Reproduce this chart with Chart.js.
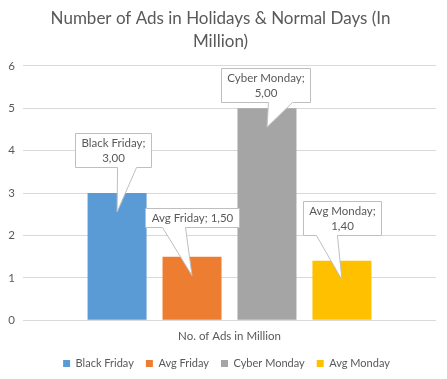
<!DOCTYPE html>
<html><head><meta charset="utf-8">
<script src="https://cdn.jsdelivr.net/npm/chart.js@4"></script>
<style>html,body{margin:0;padding:0;background:#fff}</style>
</head><body>
<canvas id="c" width="447" height="379" style="width:447px;height:379px;display:block"></canvas>
<script>
// ---- data ----
const categories = ['No. of Ads in Million'];
const seriesNames = ['Black Friday', 'Avg Friday', 'Cyber Monday', 'Avg Monday'];
const blackFriday = [3.0];
const avgFriday = [1.5];
const cyberMonday = [5.0];
const avgMonday = [1.4];
const yTicks = [0, 1, 2, 3, 4, 5, 6];
const titleLines = ['Number of Ads in Holidays & Normal Days (In', 'Million)'];

// ---- style ----
const colors = ['#5b9bd5', '#ed7d31', '#a5a5a5', '#ffc000'];
const FONT = 'Lato, "Open Sans", sans-serif';
const TEXT = '#595959';
// callout placement relative to bar: box centre dx, box bottom dy (from bar top), tail base offsets, split lines
const calloutLayout = [
  { dx: -4, dy: -26, tail: [4.5, 23.5], split: true },
  { dx: 0, dy: -30, tail: [-29.5, -6.5], split: false },
  { dx: -1, dy: -6, tail: [2.5, 26.5], split: true },
  { dx: 0.5, dy: -26, tail: [-26, -5], split: true }
];

const seriesValues = [blackFriday, avgFriday, cyberMonday, avgMonday];
const fmt = v => v.toFixed(2).replace('.', ',');

const legendShift = {
  id: 'legendShift',
  afterLayout(chart) {
    if (chart.legend) { chart.legend.left += 6; chart.legend.right += 6; }
  }
};

const calloutPlugin = {
  id: 'callouts',
  afterDatasetsDraw(chart) {
    const ctx = chart.ctx;
    ctx.save();
    ctx.font = '11.5px ' + FONT;
    chart.data.datasets.forEach((ds, i) => {
      const meta = chart.getDatasetMeta(i);
      const bar = meta.data[0];
      const lay = calloutLayout[i];
      const val = ds.data[0];
      const lines = lay.split ? [ds.label + ';', fmt(val)] : [ds.label + '; ' + fmt(val)];
      const lh = 15, padX = 6, padY = 2;
      const w = Math.round(Math.max(...lines.map(l => ctx.measureText(l).width)) + padX * 2);
      const h = lines.length * lh + padY * 2;
      const tipX = bar.x, tipY = bar.y + 19;
      const cx = bar.x + lay.dx;
      const bottom = Math.round(bar.y + lay.dy) + 0.5;
      const top = bottom - h;
      const left = Math.round(cx - w / 2) + 0.5, right = left + w;
      ctx.beginPath();
      ctx.moveTo(left, top);
      ctx.lineTo(right, top);
      ctx.lineTo(right, bottom);
      ctx.lineTo(cx + lay.tail[1], bottom);
      ctx.lineTo(tipX, tipY);
      ctx.lineTo(cx + lay.tail[0], bottom);
      ctx.lineTo(left, bottom);
      ctx.closePath();
      ctx.fillStyle = '#ffffff';
      ctx.fill();
      ctx.strokeStyle = '#bfbfbf';
      ctx.lineWidth = 1;
      ctx.stroke();
      ctx.fillStyle = TEXT;
      ctx.textAlign = 'center';
      ctx.textBaseline = 'middle';
      lines.forEach((l, k) => ctx.fillText(l, (left + right) / 2, top + padY + lh * k + lh / 2 + 0.5));
    });
    ctx.restore();
  }
};

new Chart(document.getElementById('c'), {
  type: 'bar',
  data: {
    labels: categories,
    datasets: seriesNames.map((n, i) => ({
      label: n,
      data: seriesValues[i],
      backgroundColor: colors[i],
      borderWidth: 0
    }))
  },
  options: {
    responsive: false,
    devicePixelRatio: 1,
    animation: false,
    categoryPercentage: 0.726,
    barPercentage: 0.787,
    layout: { padding: { left: 5, right: 11, top: 0, bottom: 0 } },
    plugins: {
      title: {
        display: true,
        text: titleLines,
        color: TEXT,
        font: { family: FONT, size: 17, weight: 'normal', lineHeight: 1.35 },
        padding: { top: 7, bottom: 13 }
      },
      legend: {
        position: 'bottom',
        labels: {
          boxWidth: 7, boxHeight: 7, color: TEXT,
          font: { family: FONT, size: 11 },
          padding: 12
        }
      },
      tooltip: { enabled: false }
    },
    scales: {
      x: {
        grid: { display: false, drawTicks: false },
        border: { display: false },
        afterFit: s => { s.height -= 6; },
        ticks: { color: TEXT, font: { family: FONT, size: 11.5 }, padding: 9 }
      },
      y: {
        min: 0, max: 6,
        afterBuildTicks: s => { s.ticks = yTicks.map(v => ({ value: v })); },
        afterFit: s => { s.width = 18; },
        grid: { color: '#d9d9d9', drawTicks: false },
        border: { display: false },
        ticks: { color: TEXT, font: { family: FONT, size: 11.5 }, padding: 8 }
      }
    }
  },
  plugins: [calloutPlugin, legendShift]
});
</script>
</body></html>
